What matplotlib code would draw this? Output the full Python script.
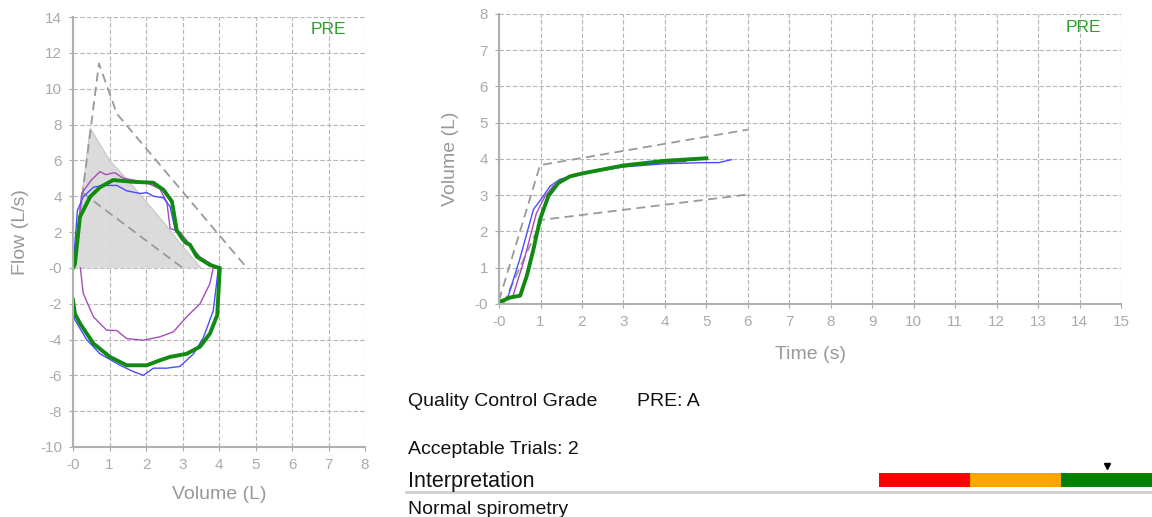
import matplotlib.pyplot as plt

plt.rcParams['font.family'] = ['Liberation Sans', 'DejaVu Sans']

# ---- flow-volume loop data (Volume L, Flow L/s) ----
pred_area_x = [0.0, 0.47, 1.0, 1.5, 2.0, 2.5, 3.0, 3.5]
pred_area_y = [0.0, 7.8, 6.0, 4.9, 3.7, 2.5, 1.2, 0.0]
upper_lim_x = [0.0, 0.71, 1.2, 4.76]
upper_lim_y = [0.0, 11.4, 8.6, 0.0]
lower_lim_x = [0.25, 3.0]
lower_lim_y = [4.2, 0.0]

purple_fv_x = [0.0, 0.05, 0.24, 0.5, 0.74, 0.9, 1.1, 1.15, 1.38, 1.65, 2.02, 2.38, 2.57, 2.66, 2.93, 3.2, 3.48, 3.84, 3.98,
               3.84, 3.75, 3.48, 3.11, 2.75, 2.38, 1.93, 1.47, 1.2, 0.92, 0.56, 0.28, 0.2]
purple_fv_y = [0.0, 0.5, 4.16, 4.9, 5.37, 5.2, 5.3, 5.3, 5.0, 4.9, 4.75, 4.4, 3.66, 2.2, 2.0, 1.3, 0.6, 0.15, 0.0,
               0.0, -0.88, -2.0, -2.74, -3.57, -3.85, -4.04, -3.95, -3.5, -3.48, -2.74, -1.43, 0.0]
blue_fv_x = [0.0, 0.12, 0.28, 0.56, 0.83, 1.2, 1.47, 1.84, 2.02, 2.2, 2.48, 2.66, 2.8, 3.11, 3.48, 3.93, 3.98,
             3.93, 3.84, 3.57, 3.3, 2.93, 2.57, 2.2, 1.93, 1.66, 1.29, 0.74, 0.37, 0.05, 0.0]
blue_fv_y = [0.0, 3.2, 3.97, 4.5, 4.6, 4.6, 4.3, 4.15, 4.2, 4.0, 3.9, 3.4, 2.1, 1.4, 0.55, 0.0, 0.0,
             -0.9, -2.4, -3.9, -4.8, -5.5, -5.6, -5.6, -6.0, -5.8, -5.44, -4.8, -4.0, -2.9, -2.2]
green_fv_x = [0.0, 0.05, 0.19, 0.47, 0.74, 1.1, 1.65, 2.2, 2.48, 2.71, 2.84, 3.0, 3.11, 3.2, 3.39, 3.75, 3.99, 4.02,
              3.95, 3.75, 3.48, 3.11, 2.66, 2.38, 2.02, 1.47, 1.01, 0.56, 0.19, 0.05, 0.0]
green_fv_y = [0.0, 0.2, 2.85, 3.97, 4.5, 4.9, 4.8, 4.75, 4.35, 3.7, 2.1, 1.6, 1.37, 1.3, 0.62, 0.16, 0.0, 0.0,
              -2.64, -3.67, -4.4, -4.8, -4.97, -5.16, -5.44, -5.44, -4.97, -4.23, -3.1, -2.55, -1.8]

# ---- volume-time data (Time s, Volume L) ----
vt_upper_x = [0.0, 0.99, 6.0]
vt_upper_y = [0.1, 3.83, 4.81]
vt_lower_x = [0.1, 1.03, 6.0]
vt_lower_y = [0.0, 2.32, 3.02]
purple_vt_x = [0.33, 0.6, 0.9, 1.1, 1.3, 1.6, 2.0, 3.0, 4.0, 4.5]
purple_vt_y = [0.2, 1.2, 2.5, 2.95, 3.25, 3.45, 3.6, 3.8, 3.9, 3.93]
blue_vt_x = [0.2, 0.5, 0.83, 1.07, 1.23, 1.47, 2.0, 3.0, 4.0, 5.0, 5.3, 5.6]
blue_vt_y = [0.14, 1.24, 2.61, 2.98, 3.25, 3.44, 3.6, 3.78, 3.87, 3.9, 3.9, 3.98]
green_vt_x = [0.0, 0.27, 0.51, 0.67, 0.83, 0.99, 1.19, 1.43, 1.71, 2.0, 3.0, 4.0, 5.0]
green_vt_y = [0.05, 0.18, 0.23, 0.78, 1.51, 2.34, 2.98, 3.34, 3.52, 3.6, 3.82, 3.95, 4.02]

# ---- interpretation bar ----
band_widths = [1, 1, 1]
band_colors = ['#ff0000', '#ffa500', '#008000']
marker_pos = 2.5

PURPLE = '#a64cb8'
BLUE = '#4b4bff'
GREEN = '#118a11'
DASH = '#999999'
TICK = '#aaaaaa'


def style_axes(ax, xmax, ymin, ymax, xlabel, ylabel, xpad, ypad):
    ax.set_xlim(0, xmax)
    ax.set_ylim(ymin, ymax)
    ax.grid(True, color='#b5b5b5', linestyle=(0, (4, 2)), linewidth=0.8)
    ax.set_axisbelow(True)
    for s in ['top', 'right']:
        ax.spines[s].set_visible(False)
    for s in ['left', 'bottom']:
        ax.spines[s].set_color('#b0b0b0')
        ax.spines[s].set_linewidth(1.5)
    ax.tick_params(colors=TICK, labelsize=11, length=3, labelcolor=TICK, pad=5)
    ax.set_xlabel(xlabel, color='#999999', fontsize=14, labelpad=xpad)
    ax.set_ylabel(ylabel, color='#999999', fontsize=14, labelpad=ypad)


fig = plt.figure(figsize=(11.52, 5.17), dpi=100)

# left: flow-volume
ax1 = fig.add_axes([0.0634, 0.1354, 0.2535, 0.8317])
style_axes(ax1, 8, -10, 14, 'Volume (L)', 'Flow (L/s)', 10, 8)
ax1.set_xticks(range(0, 9))
ax1.set_xticklabels(['-0'] + [str(i) for i in range(1, 9)])
ax1.set_yticks(range(-10, 15, 2))
ax1.set_yticklabels([('-0' if v == 0 else str(v)) for v in range(-10, 15, 2)])
ax1.fill_between(pred_area_x, pred_area_y, 0, color='#d9d9d9', alpha=0.95, linewidth=0)
ax1.plot(pred_area_x, pred_area_y, color='#c8c8c8', linewidth=0.8)
ax1.plot(upper_lim_x, upper_lim_y, color=DASH, linestyle=(0, (5, 3)), linewidth=1.3)
ax1.plot(lower_lim_x, lower_lim_y, color=DASH, linestyle=(0, (5, 3)), linewidth=1.3)
ax1.plot(purple_fv_x, purple_fv_y, color=PURPLE, linewidth=1.0)
ax1.plot(blue_fv_x, blue_fv_y, color=BLUE, linewidth=1.0)
ax1.plot(green_fv_x, green_fv_y, color=GREEN, linewidth=2.8)
ax1.text(0.873, 0.97, 'PRE', transform=ax1.transAxes, color='#2ca02c',
         fontsize=12.5, ha='center', va='center')

# right: volume-time
ax2 = fig.add_axes([0.4332, 0.412, 0.540, 0.561])
style_axes(ax2, 15, 0, 8, 'Time (s)', 'Volume (L)', 12, 11)
ax2.set_xticks(range(0, 16))
ax2.set_xticklabels(['-0'] + [str(i) for i in range(1, 16)])
ax2.set_yticks(range(0, 9))
ax2.set_yticklabels(['-0'] + [str(i) for i in range(1, 9)])
ax2.plot(vt_upper_x, vt_upper_y, color=DASH, linestyle=(0, (5, 3)), linewidth=1.3)
ax2.plot(vt_lower_x, vt_lower_y, color=DASH, linestyle=(0, (5, 3)), linewidth=1.3)
ax2.plot(purple_vt_x, purple_vt_y, color=PURPLE, linewidth=1.0)
ax2.plot(blue_vt_x, blue_vt_y, color=BLUE, linewidth=1.0)
ax2.plot(green_vt_x, green_vt_y, color=GREEN, linewidth=2.8)
ax2.text(0.939, 0.955, 'PRE', transform=ax2.transAxes, color='#2ca02c',
         fontsize=12.5, ha='center', va='center')

# bottom text block
fig.text(0.354, 1 - 402 / 517, 'Quality Control Grade', fontsize=14, va='center', color='#111111')
fig.text(0.553, 1 - 402 / 517, 'PRE: A', fontsize=14, va='center', color='#111111')
fig.text(0.354, 1 - 450 / 517, 'Acceptable Trials: 2', fontsize=14, va='center', color='#111111')
fig.text(0.354, 1 - 481 / 517, 'Interpretation', fontsize=15.5, va='center', color='#111111')
fig.text(0.354, 1 - 510 / 517, 'Normal spirometry', fontsize=14, va='center', color='#111111')
fig.add_artist(plt.Line2D([0.352, 1.0], [1 - 492 / 517, 1 - 492 / 517],
                          color='#d0d0d0', linewidth=2))

axb = fig.add_axes([879 / 1152, 1 - 487 / 517, 273 / 1152, 14 / 517])
left = 0
for w, c in zip(band_widths, band_colors):
    axb.barh(0.5, w, left=left, height=1, color=c, linewidth=0)
    left += w
axb.plot([marker_pos], [1.5], marker='v', color='black', markersize=5, clip_on=False)
axb.set_xlim(0, sum(band_widths))
axb.set_ylim(0, 1)
axb.axis('off')

fig.savefig('out.png', dpi=100)
